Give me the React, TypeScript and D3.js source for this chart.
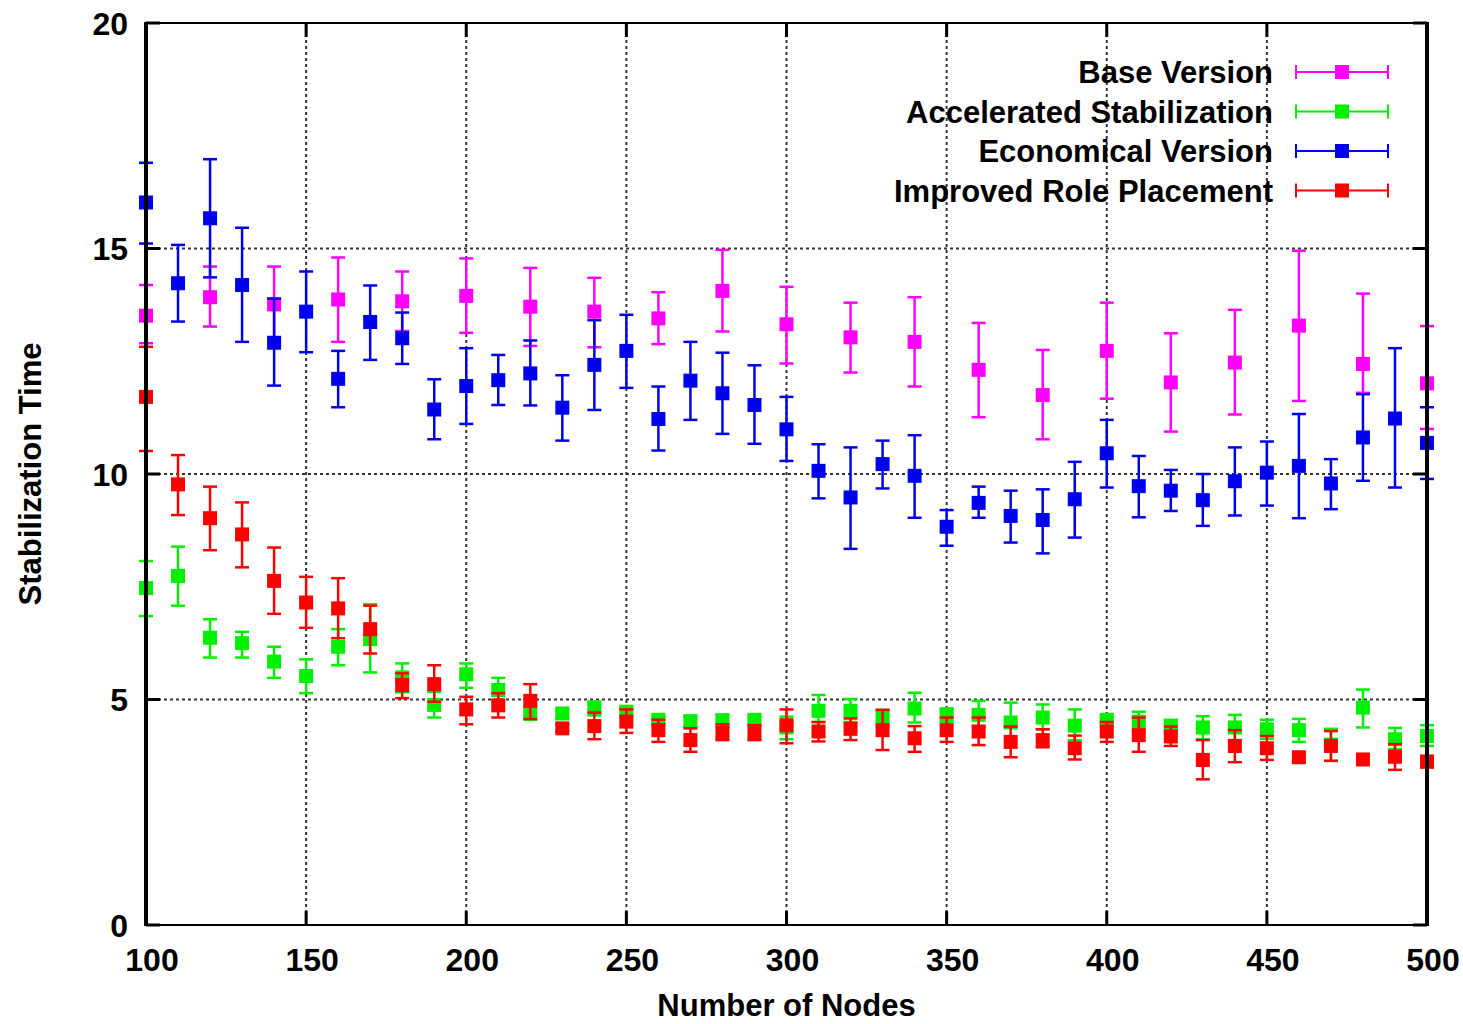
import React from "react";
import { scaleLinear } from "d3";

// number of nodes
const nodes = [100, 110, 120, 130, 140, 150, 160, 170, 180, 190, 200, 210, 220, 230, 240, 250, 260, 270, 280, 290, 300, 310, 320, 330, 340, 350, 360, 370, 380, 390, 400, 410, 420, 430, 440, 450, 460, 470, 480, 490, 500];
const baseNodes = [100, 120, 140, 160, 180, 200, 220, 240, 260, 280, 300, 320, 340, 360, 380, 400, 420, 440, 460, 480, 500];

const baseMean = [13.51, 13.92, 13.76, 13.87, 13.83, 13.95, 13.71, 13.6, 13.45, 14.06, 13.32, 13.03, 12.93, 12.31, 11.75, 12.73, 12.03, 12.47, 13.29, 12.44, 12.01];
const baseLow = [12.9, 13.27, 12.9, 12.93, 13.17, 13.13, 12.84, 12.81, 12.88, 13.16, 12.45, 12.25, 11.94, 11.26, 10.77, 11.67, 10.94, 11.32, 11.62, 11.8, 11.0];
const baseHigh = [14.19, 14.6, 14.6, 14.8, 14.49, 14.78, 14.57, 14.35, 14.03, 14.97, 14.15, 13.8, 13.92, 13.35, 12.75, 13.8, 13.12, 13.64, 14.95, 14.0, 13.28];

const accMean = [7.47, 7.74, 6.37, 6.25, 5.84, 5.52, 6.17, 6.34, 5.49, 4.88, 5.56, 5.21, 4.75, 4.69, 4.82, 4.73, 4.55, 4.52, 4.52, 4.55, 4.38, 4.75, 4.75, 4.6, 4.8, 4.66, 4.66, 4.49, 4.6, 4.42, 4.55, 4.51, 4.41, 4.38, 4.38, 4.34, 4.32, 4.0, 4.82, 4.12, 4.19];
const accLow = [6.85, 7.08, 5.93, 5.93, 5.48, 5.14, 5.76, 5.6, 5.16, 4.6, 5.26, 4.95, 4.55, 4.6, 4.65, 4.65, 4.47, 4.4, 4.37, 4.45, 4.12, 4.5, 4.5, 4.4, 4.49, 4.5, 4.4, 4.4, 4.34, 4.1, 4.45, 4.3, 4.25, 4.12, 4.1, 4.13, 4.06, 3.64, 4.38, 3.9, 3.97];
const accHigh = [8.07, 8.39, 6.78, 6.5, 6.17, 5.89, 6.56, 7.11, 5.8, 5.17, 5.8, 5.48, 5.0, 4.78, 4.95, 4.8, 4.63, 4.62, 4.67, 4.62, 4.62, 5.1, 5.01, 4.77, 5.15, 4.8, 4.97, 4.93, 4.89, 4.78, 4.62, 4.73, 4.55, 4.63, 4.66, 4.55, 4.57, 4.35, 5.22, 4.37, 4.43];

const ecoMean = [16.02, 14.23, 15.67, 14.19, 12.91, 13.6, 12.11, 13.37, 13.01, 11.43, 11.95, 12.08, 12.23, 11.47, 12.42, 12.73, 11.22, 12.07, 11.79, 11.53, 10.99, 10.07, 9.48, 10.22, 9.96, 8.83, 9.36, 9.07, 8.98, 9.44, 10.46, 9.73, 9.63, 9.42, 9.84, 10.03, 10.18, 9.79, 10.81, 11.23, 10.69];
const ecoLow = [15.11, 13.38, 14.36, 12.93, 11.96, 12.7, 11.48, 12.53, 12.44, 10.77, 11.11, 11.53, 11.52, 10.74, 11.42, 11.91, 10.52, 11.2, 10.89, 10.67, 10.29, 9.46, 8.34, 9.68, 9.03, 8.41, 9.03, 8.48, 8.24, 8.59, 9.7, 9.04, 9.18, 8.85, 9.08, 9.3, 9.02, 9.22, 9.85, 9.7, 9.89];
const ecoHigh = [16.9, 15.08, 16.98, 15.46, 13.89, 14.49, 12.73, 14.18, 13.58, 12.1, 12.79, 12.64, 12.96, 12.19, 13.41, 13.53, 11.94, 12.93, 12.69, 12.41, 11.71, 10.66, 10.59, 10.74, 10.86, 9.2, 9.72, 9.63, 9.66, 10.27, 11.2, 10.4, 10.09, 10.0, 10.59, 10.72, 11.33, 10.33, 11.77, 12.79, 11.48];

const roleMean = [11.71, 9.77, 9.02, 8.66, 7.63, 7.15, 7.02, 6.56, 5.32, 5.34, 4.78, 4.87, 4.97, 4.36, 4.41, 4.51, 4.32, 4.1, 4.26, 4.25, 4.43, 4.29, 4.35, 4.32, 4.14, 4.32, 4.29, 4.06, 4.1, 3.92, 4.29, 4.21, 4.18, 3.66, 3.97, 3.92, 3.72, 3.97, 3.67, 3.73, 3.62];
const roleLow = [10.51, 9.09, 8.31, 7.93, 6.9, 6.59, 6.36, 6.02, 5.03, 4.95, 4.45, 4.6, 4.57, 4.3, 4.12, 4.26, 4.06, 3.84, 4.1, 4.1, 4.03, 4.07, 4.1, 3.88, 3.84, 4.06, 3.99, 3.72, 3.94, 3.67, 4.06, 3.84, 3.97, 3.23, 3.61, 3.66, 3.62, 3.64, 3.58, 3.44, 3.5];
const roleHigh = [12.82, 10.42, 9.72, 9.37, 8.37, 7.72, 7.69, 7.08, 5.58, 5.76, 5.06, 5.14, 5.34, 4.45, 4.71, 4.78, 4.55, 4.36, 4.45, 4.43, 4.78, 4.5, 4.58, 4.77, 4.41, 4.6, 4.6, 4.4, 4.34, 4.2, 4.5, 4.6, 4.4, 4.1, 4.32, 4.19, 3.8, 4.3, 3.77, 4.01, 3.75];

const seriesNames = ["Base Version", "Accelerated Stabilization", "Economical Version", "Improved Role Placement"];
const seriesColors = ["#ff00ff", "#00f000", "#0000f0", "#ff0000"];

const xTicks = [100, 150, 200, 250, 300, 350, 400, 450, 500];
const yTicks = [0, 5, 10, 15, 20];

const font = "'Liberation Sans', Arial, sans-serif";

export default function App() {
  const width = 1463;
  const height = 1024;
  const margin = { top: 23, right: 36, bottom: 99, left: 146 };
  const x = scaleLinear().domain([100, 500]).range([margin.left, width - margin.right]);
  const y = scaleLinear().domain([0, 20]).range([height - margin.bottom, margin.top]);

  const series = [
    { xs: baseNodes, mean: baseMean, low: baseLow, high: baseHigh },
    { xs: nodes, mean: accMean, low: accLow, high: accHigh },
    { xs: nodes, mean: ecoMean, low: ecoLow, high: ecoHigh },
    { xs: nodes, mean: roleMean, low: roleLow, high: roleHigh },
  ];

  const cap = 7;
  const sq = 7;
  const [x0, x1] = x.range();
  const [y0, y1] = y.range();

  return (
    <svg width={width} height={height} style={{ display: "block", position: "absolute", left: 0, top: 0 }}>
      <rect width={width} height={height} fill="white" />
      {/* grid */}
      <g stroke="#333" strokeWidth={2} strokeDasharray="3,3">
        {xTicks.slice(1, -1).map((t) => (
          <line key={"gx" + t} x1={x(t)} x2={x(t)} y1={y0} y2={y1} />
        ))}
        {yTicks.slice(1, -1).map((t) => (
          <line key={"gy" + t} x1={x0} x2={x1} y1={y(t)} y2={y(t)} />
        ))}
      </g>
      {/* ticks */}
      <g stroke="black" strokeWidth={3}>
        {yTicks.map((t) => (
          <g key={"ty" + t}>
            <line x1={x0} x2={x0 + 14} y1={y(t)} y2={y(t)} />
            <line x1={x1} x2={x1 - 14} y1={y(t)} y2={y(t)} />
          </g>
        ))}
        {xTicks.map((t) => (
          <g key={"tx" + t}>
            <line x1={x(t)} x2={x(t)} y1={y0} y2={y0 - 14} />
            <line x1={x(t)} x2={x(t)} y1={y1} y2={y1 + 14} />
          </g>
        ))}
      </g>
      {/* data */}
      {series.map((s, si) => (
        <g key={si} stroke={seriesColors[si]} fill={seriesColors[si]} strokeWidth={2.5}>
          {s.xs.map((n, i) => {
            const cx = x(n);
            return (
              <g key={n}>
                <line x1={cx} x2={cx} y1={y(s.low[i])} y2={y(s.high[i])} />
                <line x1={cx - cap} x2={cx + cap} y1={y(s.low[i])} y2={y(s.low[i])} />
                <line x1={cx - cap} x2={cx + cap} y1={y(s.high[i])} y2={y(s.high[i])} />
                <rect x={cx - sq} y={y(s.mean[i]) - sq} width={sq * 2} height={sq * 2} stroke="none" />
              </g>
            );
          })}
        </g>
      ))}
      {/* frame */}
      <g stroke="black" fill="none">
        <line x1={x0} x2={x1} y1={y1} y2={y1} strokeWidth={2} />
        <line x1={x0} x2={x1} y1={y0} y2={y0} strokeWidth={2} />
        <line x1={x0} x2={x0} y1={y0 + 1} y2={y1 - 1} strokeWidth={4} />
        <line x1={x1} x2={x1} y1={y0 + 1} y2={y1 - 1} strokeWidth={4} />
      </g>
      {/* tick labels */}
      <g fontFamily={font} fontWeight="bold" fontSize={32} fill="black">
        {yTicks.map((t) => (
          <text key={"ly" + t} x={x0 - 18} y={y(t)} dy="0.36em" textAnchor="end">
            {t}
          </text>
        ))}
        {xTicks.map((t) => (
          <text key={"lx" + t} x={x(t) + 6} y={y0 + 46} textAnchor="middle">
            {t}
          </text>
        ))}
      </g>
      <text x={(x0 + x1) / 2} y={1016} textAnchor="middle" fontFamily={font} fontWeight="bold" fontSize={31}>
        Number of Nodes
      </text>
      <text
        transform={`translate(41,${(y0 + y1) / 2}) rotate(-90)`}
        textAnchor="middle"
        fontFamily={font}
        fontWeight="bold"
        fontSize={31}
      >
        Stabilization Time
      </text>
      {/* legend */}
      <g fontFamily={font} fontWeight="bold" fontSize={31}>
        {seriesNames.map((name, i) => {
          const ly = 72 + i * 39.5;
          return (
            <g key={name}>
              <text x={1273} y={ly} dy="0.36em" textAnchor="end">
                {name}
              </text>
              <g stroke={seriesColors[i]} strokeWidth={2}>
                <line x1={1296} x2={1388} y1={ly} y2={ly} />
                <line x1={1296} x2={1296} y1={ly - 7} y2={ly + 7} />
                <line x1={1388} x2={1388} y1={ly - 7} y2={ly + 7} />
              </g>
              <rect x={1342 - 7} y={ly - 7} width={14} height={14} fill={seriesColors[i]} />
            </g>
          );
        })}
      </g>
    </svg>
  );
}
